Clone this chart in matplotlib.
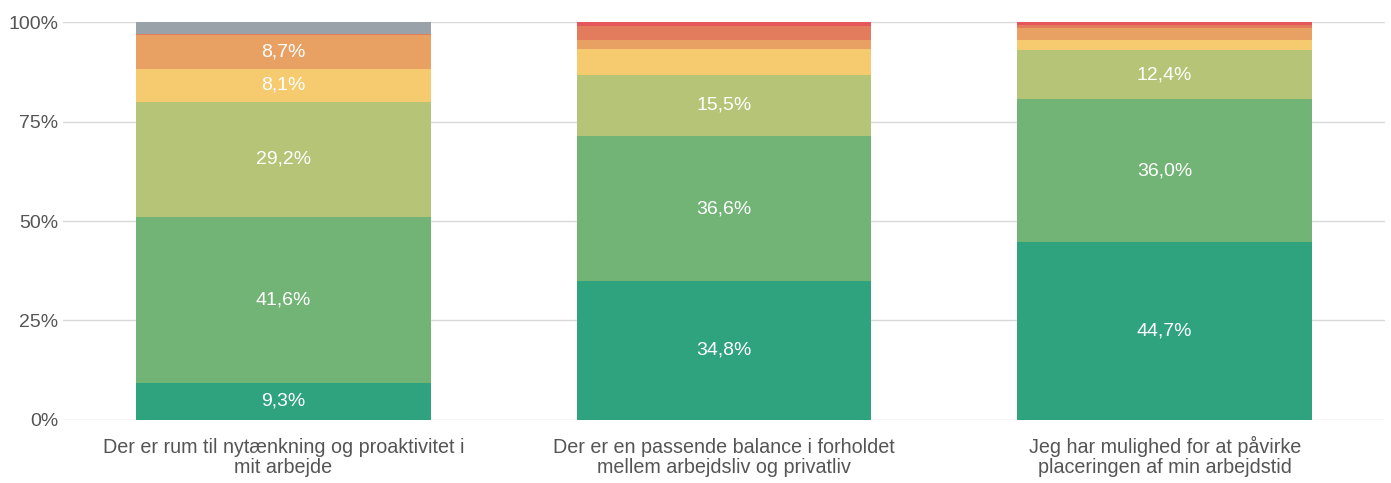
import matplotlib
matplotlib.use("Agg")
import matplotlib.pyplot as plt
import matplotlib.transforms as mtrans
import numpy as np

plt.rcParams['font.family'] = ['Liberation Sans', 'DejaVu Sans']

categories = [
    "Der er rum til nytænkning og proaktivitet i\nmit arbejde",
    "Der er en passende balance i forholdet\nmellem arbejdsliv og privatliv",
    "Jeg har mulighed for at påvirke\nplaceringen af min arbejdstid",
]
# segments bottom -> top
seg_dark_green = [9.3, 34.8, 44.7]
seg_green = [41.6, 36.6, 36.0]
seg_olive = [29.2, 15.5, 12.4]
seg_yellow = [8.1, 6.3, 2.5]
seg_orange = [8.7, 2.5, 3.1]
seg_redorange = [0.3, 3.5, 0.7]
seg_red = [0.0, 0.8, 0.6]
seg_grey = [2.8, 0.0, 0.0]

series = [seg_dark_green, seg_green, seg_olive, seg_yellow, seg_orange,
          seg_redorange, seg_red, seg_grey]
colors = ['#2fa37e', '#72b476', '#b5c476', '#f6cb6f', '#e8a163',
          '#e37c5c', '#e5575a', '#98a2a8']

W, H = 1391, 483
fig = plt.figure(figsize=(W/100, H/100), dpi=100)
ax = fig.add_axes([63/W, (H-419.5)/H, (1385-63)/W, 397/H])

x = np.arange(len(categories))
bottom = np.zeros(len(categories))
for vals, c in zip(series, colors):
    vals = np.array(vals)
    ax.bar(x, vals, 0.668, bottom=bottom, color=c, zorder=2)
    for xi, v, b in zip(x, vals, bottom):
        if v >= 8:
            ax.text(xi, b + v/2, f"{v:.1f}%".replace('.', ','), ha='center',
                    va='center', color='white', fontsize=14, zorder=3)
    bottom += vals

ax.set_xlim(-0.5, 2.5)
ax.set_ylim(0, 100)
ax.set_yticks([0, 25, 50, 75, 100])
ax.set_yticklabels(['0%', '25%', '50%', '75%', '100%'])
ax.yaxis.grid(True, color='#d9d9d9', linewidth=1, zorder=0)
ax.set_axisbelow(True)
for s in ax.spines.values():
    s.set_visible(False)
ax.tick_params(axis='y', length=0, pad=3.5, labelsize=14, labelcolor='#555555')
ax.set_xticks([])

trans = mtrans.blended_transform_factory(ax.transData, fig.transFigure)
baselines = [453, 473]
for xi, lab in zip(x, categories):
    for line, by in zip(lab.split('\n'), baselines):
        ax.text(xi, (H - by)/H, line, transform=trans, ha='center',
                va='baseline', fontsize=14.2, color='#555555', clip_on=False)

fig.savefig('out.png', dpi=100)
